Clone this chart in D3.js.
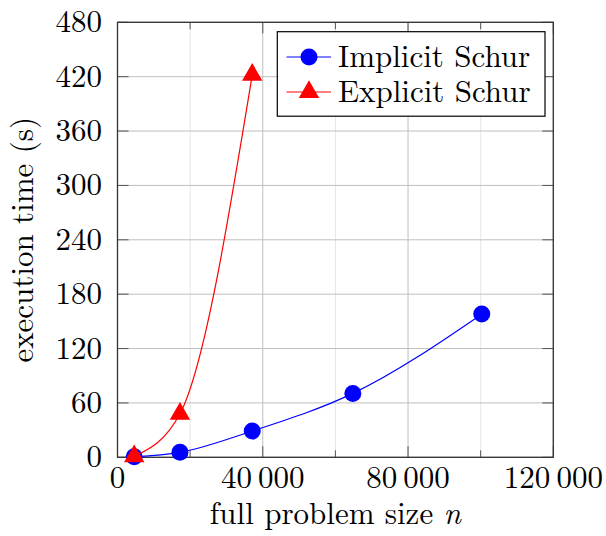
<!DOCTYPE html>
<html>
<head>
<meta charset="utf-8">
<script src="https://cdn.jsdelivr.net/npm/d3@7"></script>
</head>
<body style="margin:0">
<svg width="606" height="536"></svg>
<script>
const svg = d3.select("svg");
const FONT = "Latin Modern Roman";

// data
const implicitN = [4600, 17200, 37100, 64800, 100300];
const implicitT = [0.5, 5.5, 29, 70.5, 158];
const explicitN = [4600, 17200, 37100];
const explicitT = [1, 48, 422];

const xMajor = [0, 40000, 80000, 120000];
const xMinor = [20000, 60000, 100000];
const yTicks = [0, 60, 120, 180, 240, 300, 360, 420, 480];

const seriesNames = ["Implicit Schur", "Explicit Schur"];

const pLeft = 117.5, pRight = 553.3, pTop = 22.3, pBottom = 457.3;

const x = d3.scaleLinear().domain([0, 120000]).range([pLeft, pRight]);
const y = d3.scaleLinear().domain([0, 480]).range([pBottom, pTop]);

const fmt = d => d3.format(",")(d).replace(/,/g, "\u2009");

// grid
const g = svg.append("g");
g.selectAll(".minor").data(xMinor).join("line")
  .attr("x1", d => x(d)).attr("x2", d => x(d))
  .attr("y1", pTop).attr("y2", pBottom)
  .style("stroke", "#e6e6e6").style("stroke-width", 1);
g.selectAll(".majx").data(xMajor).join("line")
  .attr("x1", d => x(d)).attr("x2", d => x(d))
  .attr("y1", pTop).attr("y2", pBottom)
  .style("stroke", "#bfbfbf").style("stroke-width", 1);
g.selectAll(".majy").data(yTicks).join("line")
  .attr("x1", pLeft).attr("x2", pRight)
  .attr("y1", d => y(d)).attr("y2", d => y(d))
  .style("stroke", "#bfbfbf").style("stroke-width", 1);

// inner ticks
const tk = svg.append("g").style("stroke", "#555").style("stroke-width", 1);
xMajor.forEach(d => {
  tk.append("line").attr("x1", x(d)).attr("x2", x(d)).attr("y1", pBottom).attr("y2", pBottom - 11);
  tk.append("line").attr("x1", x(d)).attr("x2", x(d)).attr("y1", pTop).attr("y2", pTop + 11);
});
xMinor.forEach(d => {
  tk.append("line").attr("x1", x(d)).attr("x2", x(d)).attr("y1", pBottom).attr("y2", pBottom - 7);
  tk.append("line").attr("x1", x(d)).attr("x2", x(d)).attr("y1", pTop).attr("y2", pTop + 7);
});
yTicks.forEach(d => {
  tk.append("line").attr("x1", pLeft).attr("x2", pLeft + 11).attr("y1", y(d)).attr("y2", y(d));
  tk.append("line").attr("x1", pRight).attr("x2", pRight - 11).attr("y1", y(d)).attr("y2", y(d));
});

// frame
svg.append("rect")
  .attr("x", pLeft).attr("y", pTop)
  .attr("width", pRight - pLeft).attr("height", pBottom - pTop)
  .style("fill", "none").style("stroke", "#333").style("stroke-width", 1.3);

// tick labels
svg.selectAll(".xl").data(xMajor).join("text")
  .attr("x", d => x(d)).attr("y", 488)
  .attr("text-anchor", "middle")
  .attr("font-family", FONT).attr("font-size", 31)
  .text(d => fmt(d));
svg.selectAll(".yl").data(yTicks).join("text")
  .attr("x", 102).attr("y", d => y(d) + 10)
  .attr("text-anchor", "end")
  .attr("font-family", FONT).attr("font-size", 31)
  .text(d => d);

// axis titles
svg.append("text")
  .attr("x", x(60000)).attr("y", 524)
  .attr("text-anchor", "middle")
  .attr("font-family", FONT).attr("font-size", 31)
  .html('full problem size <tspan font-style="italic">n</tspan>');
svg.append("text")
  .attr("transform", `translate(33,${(pTop + pBottom) / 2}) rotate(-90)`)
  .attr("text-anchor", "middle")
  .attr("font-family", FONT).attr("font-size", 31)
  .text("execution time (s)");

// lines
const line = d3.line()
  .x(d => x(d[0])).y(d => y(d[1]))
  .curve(d3.curveMonotoneX);

const implicitPts = d3.zip(implicitN, implicitT);
const explicitPts = d3.zip(explicitN, explicitT);

const plot = svg.append("g");
plot.append("path").datum(implicitPts)
  .attr("d", line)
  .style("fill", "none").style("stroke", "#0000ff").style("stroke-width", 1.2);
plot.selectAll(".dot").data(implicitPts).join("circle")
  .attr("cx", d => x(d[0])).attr("cy", d => y(d[1])).attr("r", 8.5)
  .style("fill", "#0000ff");

plot.append("path").datum(explicitPts)
  .attr("d", line)
  .style("fill", "none").style("stroke", "#ff0000").style("stroke-width", 1.2);

const tri = d3.symbol().type(d3.symbolTriangle).size(180);
plot.selectAll(".tri").data(explicitPts).join("path")
  .attr("transform", d => `translate(${x(d[0])},${y(d[1])})`)
  .attr("d", tri)
  .style("fill", "#ff0000");

// legend
const lg = svg.append("g");
lg.append("rect")
  .attr("x", 277.3).attr("y", 31.7).attr("width", 267.7).attr("height", 84.5)
  .style("fill", "#fff").style("stroke", "#000").style("stroke-width", 1.2);
const rows = [
  {name: seriesNames[0], color: "#0000ff", mark: "circle", cy: 57},
  {name: seriesNames[1], color: "#ff0000", mark: "tri", cy: 92}
];
rows.forEach(r => {
  lg.append("line").attr("x1", 286.5).attr("x2", 331).attr("y1", r.cy).attr("y2", r.cy)
    .style("stroke", r.color).style("stroke-width", 1.2);
  if (r.mark === "circle") {
    lg.append("circle").attr("cx", 309).attr("cy", r.cy).attr("r", 8.5).style("fill", r.color);
  } else {
    lg.append("path").attr("transform", `translate(309,${r.cy})`).attr("d", tri).style("fill", r.color);
  }
  lg.append("text").attr("x", 338).attr("y", r.cy + 10)
    .attr("font-family", FONT).attr("font-size", 31)
    .text(r.name);
});
</script>
</body>
</html>
